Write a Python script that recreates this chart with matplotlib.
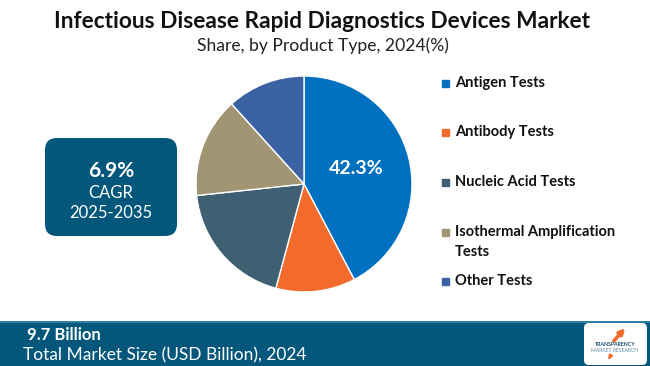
import numpy as np
import matplotlib
matplotlib.use("Agg")
import matplotlib.pyplot as plt
from matplotlib.patches import FancyBboxPatch, Rectangle

# data
categories = ["Antigen Tests", "Antibody Tests", "Nucleic Acid Tests",
              "Isothermal Amplification\nTests", "Other Tests"]
shares = [42.3, 11.9, 19.1, 15.0, 11.7]
colors = ["#0070C0", "#F26A2C", "#3F6072", "#A29573", "#3B63A3"]
cagr = "6.9%"
cagr_period = "2025-2035"
market_size = "9.7 Billion"

plt.rcParams['font.family'] = ['Lato', 'DejaVu Sans']

W, H = 650, 366
fig = plt.figure(figsize=(W/100, H/100), dpi=100)
fig.patch.set_facecolor("white")

# overlay axes in pixel coordinates
bg = fig.add_axes([0, 0, 1, 1])
bg.set_xlim(0, W)
bg.set_ylim(H, 0)
bg.axis("off")

bg.text(322, 21, "Infectious Disease Rapid Diagnostics Devices Market",
        ha="center", va="center", fontsize=16.3, fontweight="bold", color="#111111")
bg.text(323, 46, "Share, by Product Type, 2024(%)",
        ha="center", va="center", fontsize=12.6, color="#222222")

# pie
cx, cy, r = 304, 184, 108
pax = fig.add_axes([(cx - r)/W, (H - cy - r)/H, 2*r/W, 2*r/H])
wedges, _ = pax.pie(shares, colors=colors, startangle=90, counterclock=False,
                    radius=1, wedgeprops=dict(edgecolor="white", linewidth=1))
pax.set_xlim(-1, 1)
pax.set_ylim(-1, 1)
pax.set_aspect("equal")
mid = np.deg2rad(90 - shares[0] / 100 * 360 / 2)
pax.text(0.5 * np.cos(mid), 0.5 * np.sin(mid) + 0.02, f"{shares[0]}%",
         ha="center", va="center", color="white", fontsize=14, fontweight="bold")

# legend
rows = [83, 132, 182, 232, 281]
for cat, col, y in zip(categories, colors, rows):
    bg.add_patch(Rectangle((442, y - 3.5), 7, 7, color=col))
    for i, line in enumerate(cat.split("\n")):
        bg.text(455, y + 20 * i, line, ha="left", va="center", fontsize=10.5,
                fontweight="bold", color="#111111")

# CAGR box
bg.add_patch(FancyBboxPatch((45, 138), 132, 98,
                            boxstyle="round,pad=0,rounding_size=12",
                            facecolor="#03577B", edgecolor="none"))
bg.text(111, 171, cagr, ha="center", va="center", fontsize=15,
        fontweight="bold", color="white")
bg.text(111, 193, "CAGR", ha="center", va="center", fontsize=12, color="white")
bg.text(111, 213, cagr_period, ha="center", va="center", fontsize=12, color="white")

# footer
bg.add_patch(Rectangle((0, 322), W, H - 322, facecolor="#04577A", edgecolor="none"))
bg.add_patch(Rectangle((0, 321), W, 1.5, facecolor="#2f7fa3", edgecolor="none"))
bg.text(27, 335, market_size, ha="left", va="center", fontsize=12,
        fontweight="bold", color="white")
bg.text(23, 355, "Total Market Size (USD Billion), 2024", ha="left",
        va="center", fontsize=12.5, color="white")

# logo
bg.add_patch(FancyBboxPatch((584, 323), 63, 42,
                            boxstyle="round,pad=0,rounding_size=5",
                            facecolor="white", edgecolor="none"))
bg.annotate("", xy=(627, 326), xytext=(612, 343),
            arrowprops=dict(arrowstyle="-|>", color="#F26A2C", lw=2.5,
                            mutation_scale=8))
bg.text(615, 344, "TRANSPARENCY", ha="center", va="center", fontsize=3.8,
        fontweight="bold", color="#1b4f72")
bg.text(615, 350, "MARKET RESEARCH", ha="center", va="center", fontsize=3.6,
        color="#5a8aa8")
bg.annotate("", xy=(607, 362), xytext=(611, 355),
            arrowprops=dict(arrowstyle="-|>", color="#F26A2C", lw=1.5,
                            mutation_scale=5))

fig.savefig("out.png", dpi=100, facecolor="white")
